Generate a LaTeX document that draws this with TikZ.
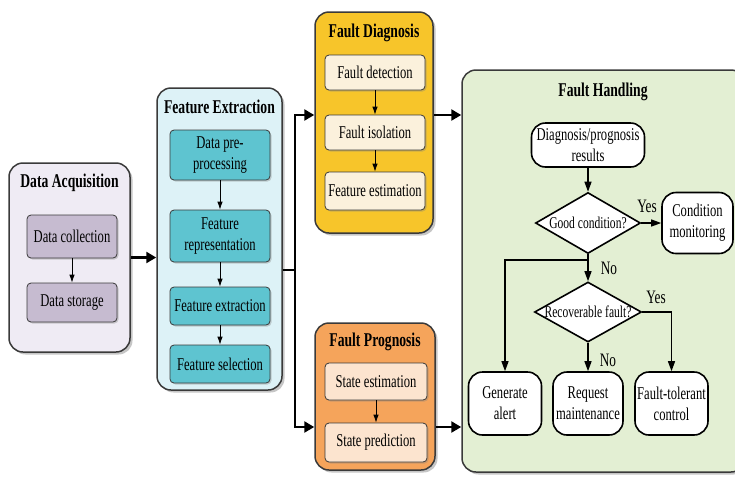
\documentclass[tikz,border=0pt]{standalone}
\usepackage{fontspec}
\setmainfont{Liberation Serif}[FakeStretch=0.7]
\usetikzlibrary{shapes.geometric,shadows,arrows.meta,calc}
\definecolor{daout}{HTML}{EFEBF4}
\definecolor{dain}{HTML}{C6BBD0}
\definecolor{feout}{HTML}{DDF2F7}
\definecolor{fein}{HTML}{5EC4D0}
\definecolor{fdout}{HTML}{F7C52A}
\definecolor{fdin}{HTML}{FBF1DC}
\definecolor{fpout}{HTML}{F5A45B}
\definecolor{fpin}{HTML}{FCE4CF}
\definecolor{fhout}{HTML}{E3EFD3}
\definecolor{edgec}{HTML}{3A3A3A}
\newcommand\mybody{\fontsize{18}{21}\selectfont}
\newcommand\mytitle{\fontsize{19.5}{21}\selectfont\bfseries}
\newcommand\mydia{\fontsize{16.5}{18}\selectfont}
\newcommand\mylab{\fontsize{19}{20}\selectfont}
\begin{document}
\begin{tikzpicture}[x=1pt,y=-1pt,
  outer/.style={draw=edgec, line width=1.5pt, rounded corners=14pt, inner sep=0pt,
    drop shadow={shadow xshift=2.5pt,shadow yshift=-2.5pt,opacity=0.45}},
  inner/.style={draw=edgec, line width=0.8pt, rounded corners=4pt, inner sep=0pt, align=center, font=\mybody,
    drop shadow={shadow xshift=1.5pt,shadow yshift=-1.5pt,opacity=0.35}},
  ttl/.style={font=\mytitle},
  small/.style={-{Latex[length=8pt,width=5.5pt]}, line width=0.8pt},
  big/.style={-{Triangle[length=10pt,width=11pt]}, line width=2.4pt},
  bigline/.style={line width=2.4pt},
  flow/.style={draw=black, line width=1.6pt, rounded corners=14pt, fill=white, inner sep=0pt, align=center, font=\mybody},
  dia/.style={draw=black, line width=1.6pt, diamond, fill=white, inner sep=0pt},
  farr/.style={-{Triangle[length=10pt,width=7pt]}, line width=1.3pt},
  lab/.style={font=\mylab}
]
\useasboundingbox (0,0) rectangle (735,480);
\clip (0,0) rectangle (735,480);

% ---------- Data Acquisition
\node[outer, fill=daout, minimum width=121pt, minimum height=189pt] (da) at (69.5,257.5) {};
\node[ttl] (dat) at (69.5,183) {Data Acquisition};
\node[inner, fill=dain, minimum width=90pt, minimum height=43pt] (dc) at (72,236.5) {Data collection};
\node[inner, fill=dain, minimum width=90pt, minimum height=39pt] (ds) at (72,302.5) {Data storage};
\draw[small] (dc) -- (ds);

% ---------- Feature Extraction
\node[outer, fill=feout, minimum width=125pt, minimum height=302pt] (fe) at (219.5,239) {};
\node[ttl] (fet) at (219.5,107) {Feature Extraction};
\node[inner, fill=fein, minimum width=100pt, minimum height=50pt] (dpp) at (220,155) {Data pre-\\processing};
\node[inner, fill=fein, minimum width=100pt, minimum height=52pt] (fr) at (220,236) {Feature\\representation};
\node[inner, fill=fein, minimum width=100pt, minimum height=38pt] (fx) at (220,306) {Feature extraction};
\node[inner, fill=fein, minimum width=100pt, minimum height=38pt] (fs) at (220,364) {Feature selection};
\draw[small] (dpp) -- (fr);
\draw[small] (fr) -- (fx);
\draw[small] (fx) -- (fs);

% ---------- Fault Diagnosis
\node[outer, fill=fdout, minimum width=118pt, minimum height=221pt] (fd) at (374,122.5) {};
\node[ttl] (fdt) at (374,33) {Fault Diagnosis};
\node[inner, fill=fdin, minimum width=100pt, minimum height=35pt] (fdet) at (375,72.5) {Fault detection};
\node[inner, fill=fdin, minimum width=100pt, minimum height=35pt] (fiso) at (375,132.5) {Fault isolation};
\node[inner, fill=fdin, minimum width=100pt, minimum height=38pt] (fest) at (375,191) {Feature estimation};
\draw[small] (fdet) -- (fiso);
\draw[small] (fiso) -- (fest);

% ---------- Fault Prognosis
\node[outer, fill=fpout, minimum width=120pt, minimum height=147pt] (fp) at (375,396.5) {};
\node[ttl] (fpt) at (375,342) {Fault Prognosis};
\node[inner, fill=fpin, minimum width=102pt, minimum height=37pt] (se) at (376,381.5) {State estimation};
\node[inner, fill=fpin, minimum width=102pt, minimum height=39pt] (sp) at (376,442.5) {State prediction};
\draw[small] (se) -- (sp);

% ---------- Fault Handling
\node[outer, fill=fhout, minimum width=283pt, minimum height=402pt] (fh) at (603.5,271) {};
\node[ttl] (fht) at (603,92) {Fault Handling};
\node[flow, minimum width=113pt, minimum height=44pt] (res) at (588,145) {Diagnosis/prognosis\\results};
\node[dia, minimum width=105pt, minimum height=61pt] (d1) at (588,223) {};
\node[font=\mydia] (d1t) at (588,223) {Good condition?};
\node[flow, minimum width=71pt, minimum height=61pt] (cm) at (697.5,223) {Condition\\monitoring};
\node[dia, minimum width=107pt, minimum height=60pt] (d2) at (588,312) {};
\node[font=\mydia] (d2t) at (588,312) {Recoverable fault?};
\node[flow, minimum width=73pt, minimum height=63pt] (ga) at (505,403.5) {Generate\\alert};
\node[flow, minimum width=70pt, minimum height=63pt] (rm) at (588,403.5) {Request\\maintenance};
\node[flow, minimum width=73pt, minimum height=63pt] (ftc) at (671.5,403.5) {Fault-tolerant\\control};
\coordinate (br) at (588,260);
\draw[farr] (res) -- (d1);
\draw[farr] (d1.east) -- (cm.west);
\node[lab] (y1) at (647,206) {Yes};
\draw[farr] (d1.south) -- (d2.north);
\node[lab] (n1) at (609,268) {No};
\draw[farr] (br) -| (ga.north);
\draw[farr] (d2.east) -| (ftc.north);
\node[lab] (y2) at (656,297) {Yes};
\draw[farr] (d2.south) -- (rm.north);
\node[lab] (n2) at (608,360) {No};

% ---------- Stage connectors
\coordinate (split) at (295,270);
\draw[big] (da.east) -- (da.east -| fe.west);
\draw[bigline] (fe.east |- split) -- (split);
\draw[big] (split) |- ([yshift=7.5pt]fd.west);
\draw[big] (split) |- ([yshift=-30.5pt]fp.west);
\draw[big] ([yshift=7.5pt]fd.east) -- ([yshift=7.5pt]fd.east -| fh.west);
\draw[big] ([yshift=-30.5pt]fp.east) -- ([yshift=-30.5pt]fp.east -| fh.west);
\end{tikzpicture}
\end{document}
